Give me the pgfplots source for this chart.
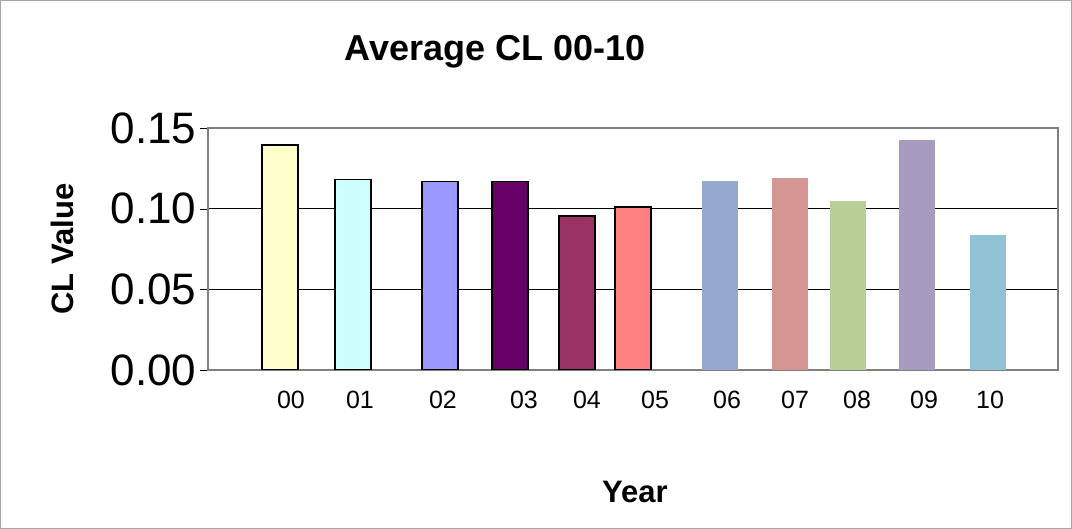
\documentclass[border=0pt]{standalone}
\usepackage{pgfplots}
\pgfplotsset{compat=1.18}
\usepackage{fontspec}
\setmainfont{Liberation Sans}
\begin{document}
\begin{tikzpicture}[x=1pt,y=1pt]
\draw[gray!70, line width=1pt] (0.5,0.5) rectangle (1071.5,528.5);
\node[font=\fontsize{36}{40}\selectfont\bfseries] at (495,477) {Average CL 00-10};
\node[font=\fontsize{31}{34}\selectfont\bfseries] at (635,37) {Year};
\node[font=\fontsize{31}{34}\selectfont\bfseries, rotate=90] at (62,280) {CL Value};
\begin{axis}[at={(208pt,159pt)}, anchor=south west, scale only axis,
 width=850pt, height=242pt, xmin=208, xmax=1058, ymin=0, ymax=0.15,
 axis line style={gray, line width=1.2pt},
 ytick={0,0.05,0.10,0.15}, yticklabels={0.00,0.05,0.10,0.15},
 yticklabel style={font=\fontsize{44}{46}\selectfont},
 ymajorgrids, grid style={black, line width=0.6pt},
 ytick style={black}, ytick pos=left, major tick length=8pt, tick align=outside,
 xtick={291,360,443,524,587,655,727,795,857,924,990},
 xticklabels={00,01,02,03,04,05,06,07,08,09,10},
 xticklabel style={font=\fontsize{25}{28}\selectfont, yshift=-10pt},
 xtick style={draw=none},
 /pgf/number format/assume math mode=true,
 every axis plot/.append style={ybar, bar width=36pt, bar shift=0pt}]
\addplot[fill={rgb,255:red,255;green,255;blue,204}, draw=black, line width=1.3pt] coordinates {(280,0.1395)};
\addplot[fill={rgb,255:red,204;green,255;blue,255}, draw=black, line width=1.3pt] coordinates {(353,0.118)};
\addplot[fill={rgb,255:red,153;green,153;blue,255}, draw=black, line width=1.3pt] coordinates {(440,0.117)};
\addplot[fill={rgb,255:red,102;green,0;blue,102}, draw=black, line width=1.3pt] coordinates {(510,0.117)};
\addplot[fill={rgb,255:red,153;green,51;blue,102}, draw=black, line width=1.3pt] coordinates {(577,0.0955)};
\addplot[fill={rgb,255:red,255;green,128;blue,128}, draw=black, line width=1.3pt] coordinates {(633,0.101)};
\addplot[fill={rgb,255:red,149;green,169;blue,208}, draw=none] coordinates {(720,0.117)};
\addplot[fill={rgb,255:red,212;green,149;blue,147}, draw=none] coordinates {(790,0.119)};
\addplot[fill={rgb,255:red,185;green,205;blue,150}, draw=none] coordinates {(848,0.105)};
\addplot[fill={rgb,255:red,168;green,155;blue,192}, draw=none] coordinates {(917,0.1426)};
\addplot[fill={rgb,255:red,146;green,195;blue,213}, draw=none] coordinates {(988,0.0837)};
\end{axis}
\end{tikzpicture}
\end{document}
